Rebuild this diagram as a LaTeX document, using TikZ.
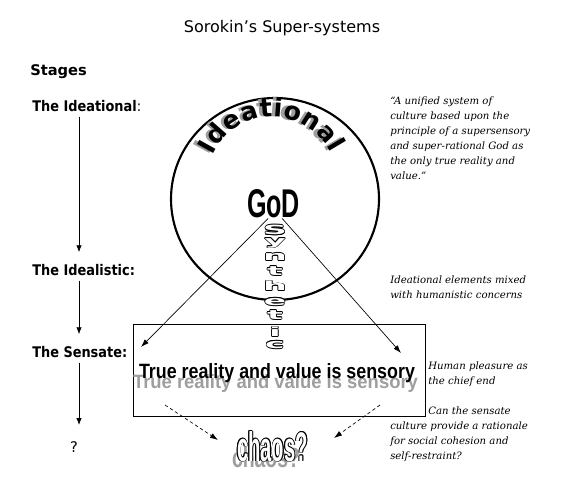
\documentclass[tikz,border=0pt]{standalone}
\usepackage{fontspec}
\setmainfont{DejaVu Sans}
\newfontfamily\notefont{DejaVu Serif}
\newfontfamily\stagefont{DejaVu Sans}[FakeStretch=0.88]
\newfontfamily\widefont{DejaVu Sans}[FakeStretch=2.6]
\newfontfamily\artfont{Liberation Sans}
\usetikzlibrary{arrows.meta,decorations.text}

\newdimen\pxu \pxu=0.75pt
\definecolor{shadowgray}{gray}{0.62}

% hollow letters: black copies round a white one
\newcommand\hollow[1]{\leavevmode
  \rlap{\hspace{-.55pt}#1}\rlap{\hspace{.55pt}#1}%
  \rlap{\raisebox{.55pt}{#1}}\rlap{\raisebox{-.55pt}{#1}}%
  \rlap{\hspace{-.4pt}\raisebox{.4pt}{#1}}\rlap{\hspace{.4pt}\raisebox{.4pt}{#1}}%
  \rlap{\hspace{-.4pt}\raisebox{-.4pt}{#1}}\rlap{\hspace{.4pt}\raisebox{-.4pt}{#1}}%
  {\color{white}#1}}
\newcommand\arcfont{\bfseries\fontsize{19}{19}\selectfont}
\newcommand\synfont{\widefont\bfseries\fontsize{9.5}{10}\selectfont}

\tikzset{
  stage/.style={anchor=west, inner sep=0pt, font=\stagefont\bfseries\fontsize{11}{12}\selectfont},
  note/.style={anchor=north west, align=left, inner sep=0pt, font=\notefont\itshape\fontsize{7.6}{11.25}\selectfont},
  stagearrow/.style={-{Latex[length=5pt,width=4pt]}, line width=0.5pt, shorten <=3.5pt, shorten >=9pt},
  godarrow/.style={-{Latex[length=6pt,width=4pt]}, line width=0.5pt},
  chaosarrow/.style={-{Latex[length=6pt,width=4pt]}, line width=0.5pt, dash pattern=on 2.5pt off 2pt},
}

\begin{document}
\begin{tikzpicture}[x=0.75pt, y=-0.75pt]
    \useasboundingbox (0,0) rectangle (570,491);

    % Heading and stages
    \node (title) at (282,28) {\fontsize{12}{14}\selectfont Sorokin’s Super-systems};
    \node[anchor=west, inner sep=0pt, font=\bfseries\fontsize{11}{13}\selectfont] (stages) at (30,72) {Stages};
    \node[stage] (ideational) at (32,106) {The Ideational\mdseries:};
    \node[stage] (idealistic) at (32,270) {The Idealistic:};
    \node[stage] (sensate) at (32,352) {The Sensate:};
    \node[font=\fontsize{11}{13}\selectfont] (unknown) at (74,447) {?};
    \coordinate (stem) at (79,0);
    \draw[stagearrow] (ideational.south -| stem) -- (idealistic.north -| stem);
    \draw[stagearrow] (idealistic.south -| stem) -- (sensate.north -| stem);
    \draw[stagearrow] (sensate.south -| stem) -- (unknown.north -| stem);

    % Ideational circle
    \draw[line width=1.6pt] (275,199) ellipse [x radius=104, y radius=101];
    \path[xshift=-2.5pt, decorate, decoration={text along path, text color=shadowgray,
        text={|\arcfont|Ideational}, text align=fit to path}]
        (272,183) ++(155:49.5pt) arc[start angle=155, end angle=27, radius=49.5pt];
    \path[decorate, decoration={text along path,
        text={|\arcfont|Ideational}, text align=fit to path}]
        (272,183) ++(155:49.5pt) arc[start angle=155, end angle=27, radius=49.5pt];
    \node[inner sep=0pt] (god) at (273.5,204) {\resizebox{53\pxu}{28\pxu}{\artfont\bfseries GoD}};

    % Sensate box
    \draw[line width=0.6pt] (133,324) rectangle (425,416);
    \node[inner sep=0pt, anchor=base, text=shadowgray] (truthshadow) at (275.5,388)
        {\resizebox{285\pxu}{14\pxu}{\artfont\bfseries True reality and value is sensory}};
    \node[inner sep=0pt, anchor=base] (truth) at (277,378)
        {\resizebox{276\pxu}{15\pxu}{\artfont\bfseries True reality and value is sensory}};

    % Synthetic, letter by letter
    \foreach \ch/\yy [count=\k] in {S/230, y/243, n/257, t/271, h/286, e/302, t/315, i/332, c/345}
        \node[inner sep=0pt] (syn\k) at (275,\yy) {\hollow{\synfont \ch}};

    % chaos
    \node[inner sep=0pt, anchor=base, text=shadowgray] (chaosshadow) at (266,467)
        {\resizebox{68\pxu}{20\pxu}{\artfont\bfseries chaos?}};
    \node[inner sep=0pt, anchor=base] (chaos) at (272.5,461)
        {\hollow{\resizebox{71\pxu}{30\pxu}{\artfont\bfseries chaos?}}};

    % Connectors
    \coordinate (lefttip) at (141,347);
    \coordinate (righttip) at (401,353);
    \coordinate (leftfoot) at (165,405);
    \coordinate (rightfoot) at (380,405);
    \coordinate (chaosleft) at (218,440);
    \coordinate (chaosright) at (334,438);
    \draw[godarrow] ([xshift=-4pt]god.south) -- (lefttip);
    \draw[godarrow] ([xshift=6.5pt]god.south) -- (righttip);
    \draw[chaosarrow] (leftfoot) -- (chaosleft);
    \draw[chaosarrow] (rightfoot) -- (chaosright);

    % Notes
    \node[note] (quote) at (390,97) {“A unified system of\\ culture based upon the\\ principle of a supersensory\\ and super-rational God as\\ the only true reality and\\ value.”};
    \node[note] (mixed) at (390,276) {Ideational elements mixed\\ with humanistic concerns};
    \node[note] (pleasure) at (428,362) {Human pleasure as\\ the chief end};
    \node[note] (question) at (390,407) {\hspace*{38\pxu}Can the sensate\\ culture provide a rationale\\ for social cohesion and\\ self-restraint?};
\end{tikzpicture}
\end{document}
